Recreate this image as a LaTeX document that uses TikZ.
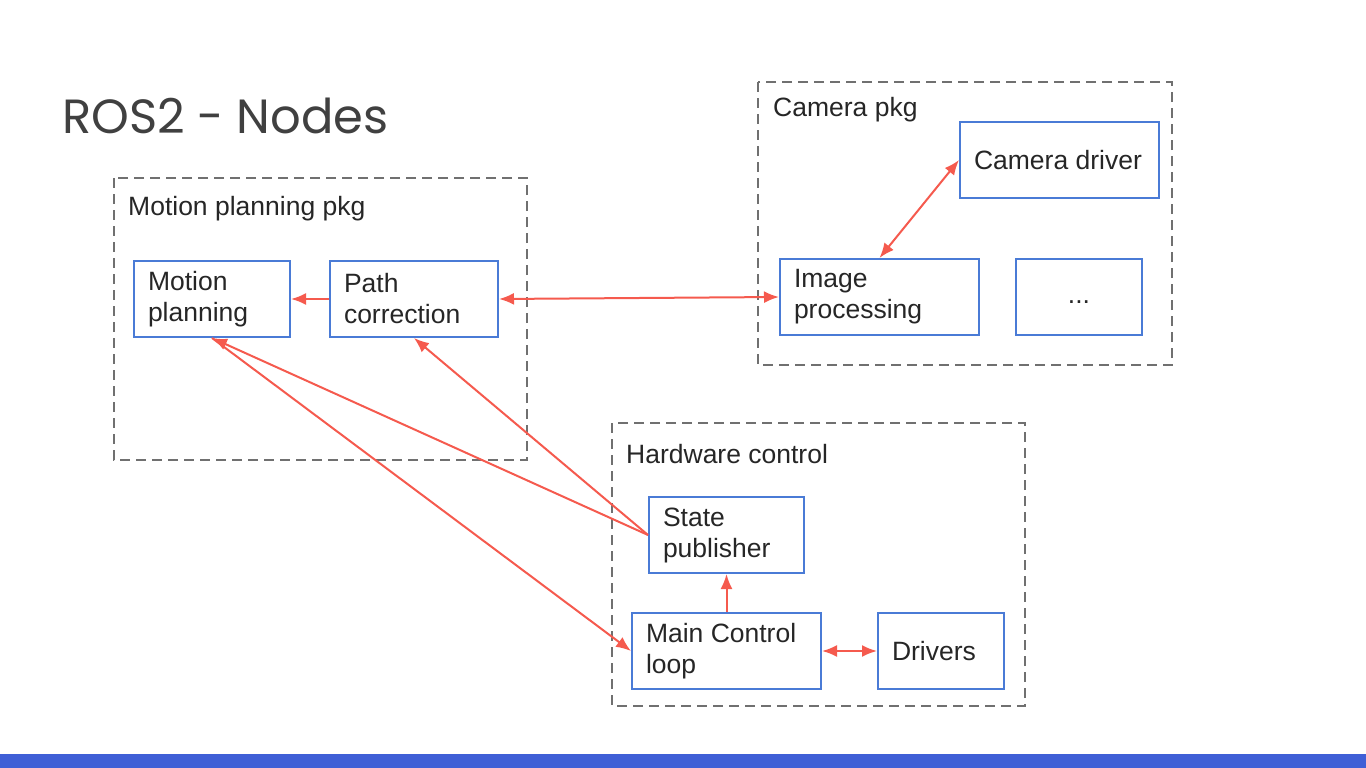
\documentclass[tikz,border=0pt]{standalone}
\usepackage{fontspec}
\setmainfont{Liberation Sans}
\newfontfamily\titlefont{Poppins}
\usetikzlibrary{arrows.meta}
\definecolor{boxblue}{HTML}{4A7BD6}
\definecolor{arrred}{HTML}{F55A4E}
\definecolor{pkggray}{HTML}{707070}
\definecolor{barblue}{HTML}{3F5FD6}
\begin{document}
\begin{tikzpicture}[x=1pt, y=-1pt,
  >={Latex[length=15pt,width=12pt]},
  box/.style={draw=boxblue, line width=2pt, anchor=north west, minimum height=76pt,
    inner xsep=14pt, align=flush left, text=black!85, font=\fontsize{26.5}{31}\selectfont},
  pkg/.style={draw=pkggray, line width=2.5pt, dash pattern=on 10pt off 6pt},
  pkglabel/.style={anchor=west, inner sep=0pt, text=black!85, font=\fontsize{26.5}{31}\selectfont},
  link/.style={draw=arrred, line width=2pt, arrred}]
\useasboundingbox (0,0) rectangle (1366,768);
\fill[barblue] (0,754) rectangle (1366,768);
\node[anchor=base west, inner sep=0pt, text=black!75, font=\titlefont\fontsize{48}{54}\selectfont] (title) at (62,133) {ROS2 - Nodes};
% packages
\draw[pkg] (114,178) rectangle (527,460);
\node[pkglabel] (lmp) at (128,209) {Motion planning pkg};
\draw[pkg] (758,82) rectangle (1172,365);
\node[pkglabel] (lcam) at (773,110) {Camera pkg};
\draw[pkg] (612,423) rectangle (1025,706);
\node[pkglabel] (lhw) at (626,454) {Hardware control};
% nodes
\node[box, text width=128pt] (mp) at (133,260) {Motion\\planning};
\node[box, text width=140pt] (pc) at (329,260) {Path\\correction};
\node[box, text width=171pt] (cd) at (959,121) {Camera driver};
\node[box, text width=171pt] (ip) at (779,258) {Image\\processing};
\node[box, text width=98pt, align=center] (etc) at (1015,258) {\strut...};
\node[box, text width=127pt] (sp) at (648,496) {State\\publisher};
\node[box, text width=161pt] (mc) at (631,612) {Main Control\\loop};
\node[box, text width=98pt] (dr) at (877,612) {Drivers};
% links
\draw[link, ->] (pc.west) -- (mp.east);
\draw[link, <->] (pc.east) -- (ip.west);
\draw[link, <->] (cd.west) -- (ip.north);
\draw[link, ->] (sp.west) -- (mp.south);
\draw[link, ->] (sp.west) -- (pc.south);
\draw[link, ->] (mp.south) -- (mc.west);
\draw[link, ->] (mc.north) -- (sp.south);
\draw[link, <->] (mc.east) -- (dr.west);
\end{tikzpicture}
\end{document}
